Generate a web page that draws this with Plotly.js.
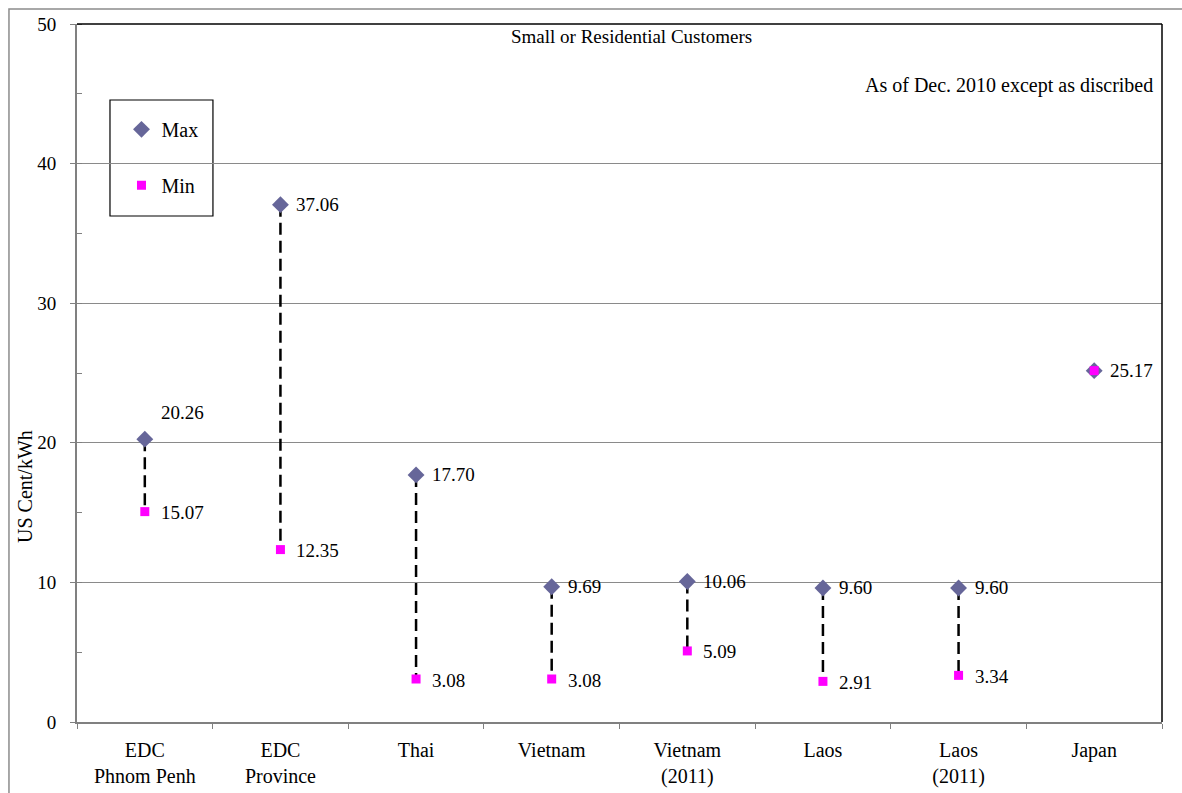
<!DOCTYPE html>
<html>
<head>
<meta charset="utf-8">
<script src="https://cdn.plot.ly/plotly-3.0.1.min.js"></script>
<style>
  html, body { margin: 0; padding: 0; background: #ffffff; }
  #chart { width: 1182px; height: 793px; }
</style>
</head>
<body>
<div id="chart"></div>
<script>
// Electricity tariffs for small / residential customers (US cent per kWh)
const categories = ['EDC Phnom Penh', 'EDC Province', 'Thai', 'Vietnam', 'Vietnam (2011)', 'Laos', 'Laos (2011)', 'Japan'];
const tickLabels = ['EDC<br>Phnom Penh', 'EDC<br>Province', 'Thai', 'Vietnam', 'Vietnam<br>(2011)', 'Laos', 'Laos<br>(2011)', 'Japan'];
const maxValues = [20.26, 37.06, 17.70, 9.69, 10.06, 9.60, 9.60, 25.17];
const minValues = [15.07, 12.35, 3.08, 3.08, 5.09, 2.91, 3.34, 25.17];

const FONT = '"Liberation Serif", "Times New Roman", Times, serif';
const MAX_COLOR = '#666699';
const MIN_COLOR = '#ff00ff';

// Dashed connectors between the max and min of each market
const rangeX = [];
const rangeY = [];
categories.forEach((c, i) => {
  rangeX.push(c, c, null);
  rangeY.push(maxValues[i], minValues[i], null);
});

const traces = [
  {
    x: rangeX, y: rangeY, type: 'scatter', mode: 'lines',
    line: { color: '#000000', width: 2.5, dash: '12px,6px' },
    showlegend: false, hoverinfo: 'skip', connectgaps: false
  },
  {
    name: 'Max', x: categories, y: maxValues, type: 'scatter', mode: 'markers',
    marker: { symbol: 'diamond', size: 13, color: MAX_COLOR },
    legendgroup: 'max'
  },
  {
    name: 'Min', x: categories, y: minValues, type: 'scatter', mode: 'markers',
    marker: { symbol: 'square', size: 9, color: MIN_COLOR },
    legendgroup: 'min'
  }
];

// Value labels next to each marker
const annotations = [];
categories.forEach((c, i) => {
  const above = i === 0; // first max label sits above its marker
  annotations.push({
    x: c, y: maxValues[i], xref: 'x', yref: 'y',
    text: maxValues[i].toFixed(2), showarrow: false,
    xanchor: 'left', yanchor: 'middle',
    xshift: 14, yshift: above ? 27 : 0,
    font: { family: FONT, size: 19, color: '#000000' }
  });
  if (minValues[i] !== maxValues[i]) {
    annotations.push({
      x: c, y: minValues[i], xref: 'x', yref: 'y',
      text: minValues[i].toFixed(2), showarrow: false,
      xanchor: 'left', yanchor: 'middle',
      xshift: 14, yshift: -1,
      font: { family: FONT, size: 19, color: '#000000' }
    });
  }
});

annotations.push(
  {
    text: 'Small or Residential Customers', xref: 'paper', yref: 'paper',
    x: 0.5115, y: 0.9814, xanchor: 'center', yanchor: 'middle', showarrow: false,
    font: { family: FONT, size: 19, color: '#000000' }
  },
  {
    text: 'As of Dec. 2010 except as discribed', xref: 'paper', yref: 'paper',
    x: 0.9935, y: 0.9126, xanchor: 'right', yanchor: 'middle', showarrow: false,
    font: { family: FONT, size: 20, color: '#000000' }
  },
  {
    text: 'US Cent/kWh', xref: 'paper', yref: 'paper', textangle: -90,
    x: -0.0479, y: 0.3367, xanchor: 'center', yanchor: 'middle', showarrow: false,
    font: { family: FONT, size: 20, color: '#000000' }
  }
);

const shapes = [
  // chart frame
  { type: 'rect', xref: 'paper', yref: 'paper', x0: -0.0627, x1: 1.06, y0: -0.2, y1: 1.0215,
    line: { color: '#8c8c8c', width: 1.5 }, layer: 'below' },
  // top and right edges of the plot area
  { type: 'line', xref: 'paper', yref: 'paper', x0: 0, x1: 1, y0: 1, y1: 1,
    line: { color: '#000000', width: 1.5 } },
  { type: 'line', xref: 'paper', yref: 'paper', x0: 1, x1: 1, y0: 0, y1: 1,
    line: { color: '#000000', width: 1.5 } },
  // legend box
  { type: 'rect', xref: 'paper', yref: 'paper', x0: 0.0304, x1: 0.1253, y0: 0.7249, y1: 0.8911,
    line: { color: '#000000', width: 1.2 }, fillcolor: '#ffffff', layer: 'below' }
];

const layout = {
  width: 1182, height: 793,
  margin: { l: 77, r: 20, t: 24, b: 71, pad: 0 },
  paper_bgcolor: '#ffffff', plot_bgcolor: 'rgba(0,0,0,0)',
  font: { family: FONT, size: 18, color: '#000000' },
  showlegend: true,
  legend: {
    x: 0.041, y: 0.877, xanchor: 'left', yanchor: 'top',
    bgcolor: 'rgba(0,0,0,0)', borderwidth: 0,
    traceorder: 'grouped', tracegroupgap: 27,
    font: { family: FONT, size: 20, color: '#000000' }
  },
  xaxis: {
    type: 'category', categoryorder: 'array', categoryarray: categories,
    range: [-0.5, 7.5], tickmode: 'array', tickvals: categories, ticktext: tickLabels,
    tickson: 'boundaries', ticks: 'outside', ticklen: 5, tickcolor: '#808080', tickwidth: 1,
    showline: true, linecolor: '#808080', linewidth: 2,
    showgrid: false, zeroline: false, fixedrange: true, ticklabelstandoff: 9,
    tickfont: { family: FONT, size: 20, color: '#000000' }
  },
  yaxis: {
    range: [0, 50], dtick: 10, tick0: 0,
    ticks: 'outside', ticklen: 5, tickcolor: '#808080', tickwidth: 1,
    showline: true, linecolor: '#808080', linewidth: 2,
    showgrid: true, gridcolor: '#8a8a8a', gridwidth: 1,
    zeroline: false, fixedrange: true, ticklabelstandoff: 10,
    minor: { ticks: 'inside', dtick: 5, ticklen: 5, tickcolor: '#808080', showgrid: false },
    tickfont: { family: FONT, size: 19, color: '#000000' }
  },
  annotations: annotations,
  shapes: shapes,
  hovermode: false
};

Plotly.newPlot('chart', traces, layout, { displayModeBar: false, staticPlot: true });
</script>
</body>
</html>
